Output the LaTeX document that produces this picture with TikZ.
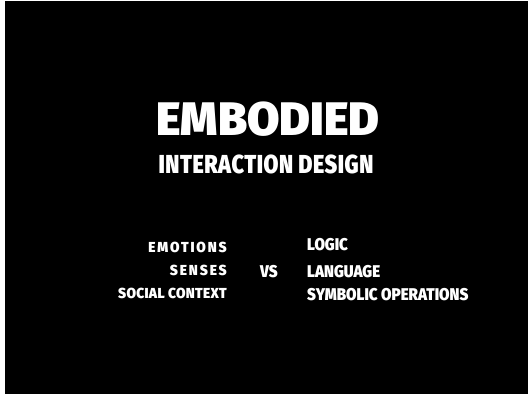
\documentclass[tikz,border=0pt]{standalone}
\usepackage{fontspec}
\newfontfamily\titlefont{Fira Sans}[UprightFont=* Black, FakeStretch=1.0]
\newfontfamily\slidefont{Fira Sans}[UprightFont=* Black, FakeStretch=0.83, LetterSpace=2]
\newfontfamily\listfont{Fira Sans}[UprightFont=* Black, FakeStretch=0.89]
\newfontfamily\trackfont{Fira Sans}[UprightFont=* Black, FakeStretch=0.95, LetterSpace=13]

\tikzset{
    slidetext/.style={text=white, inner sep=0pt},
    bigtitle/.style={slidetext, font=\titlefont\fontsize{47}{47}\selectfont},
    subtitle/.style={slidetext, font=\slidefont\fontsize{26}{26}\selectfont},
    leftword/.style={slidetext, anchor=base east, font=\trackfont\fontsize{14.5}{14.5}\selectfont},
    rightword/.style={slidetext, anchor=base west, font=\listfont\fontsize{17}{17}\selectfont}
}

\begin{document}
\begin{tikzpicture}[x=1pt, y=-1pt]
    % slide
    \fill [white] (0,0) rectangle (528,394);
    \fill [black] (5,1) rectangle (528,394);

    % title
    \node [bigtitle, anchor=base] (embodied) at (268,135) {EMBODIED};
    \node [subtitle, anchor=base] (interaction) at (266,173) {INTERACTION DESIGN};

    % body vs mind
    \node [leftword] (emotions) at (227,252) {EMOTIONS};
    \node [leftword] (senses) at (227,275) {SENSES};
    \node [leftword] (social) at (227,298) {\addfontfeature{LetterSpace=2}SOCIAL CONTEXT};
    \node [rightword] (vs) at (260,277) {VS};
    \node [rightword] (logic) at (307,250) {LOGIC};
    \node [rightword] (language) at (307,277) {LANGUAGE};
    \node [rightword] (symbolic) at (307,300) {SYMBOLIC OPERATIONS};
\end{tikzpicture}
\end{document}
